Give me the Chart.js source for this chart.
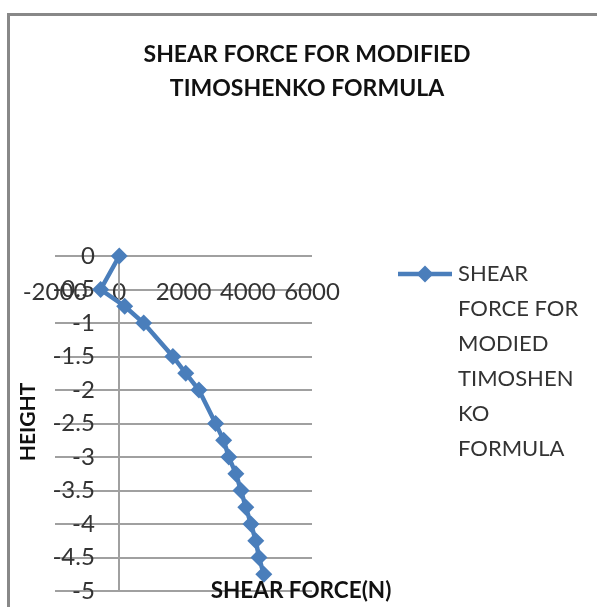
<!DOCTYPE html>
<html>
<head>
<meta charset="utf-8">
<script src="https://cdn.jsdelivr.net/npm/chart.js@4/dist/chart.umd.min.js"></script>
<style>
  body { margin: 0; background: #fff; overflow: hidden; }
</style>
</head>
<body>
<canvas id="myChart" width="597" height="607"></canvas>
<script>
// values
var height = [0, -0.5, -0.75, -1, -1.5, -1.75, -2, -2.5, -2.75, -3, -3.25, -3.5, -3.75, -4, -4.25, -4.5, -4.75]
var shearForce = [0, -580, 170, 760, 1670, 2070, 2480, 3000, 3250, 3410, 3630, 3790, 3940, 4100, 4250, 4350, 4500]
var titleLines = ['SHEAR FORCE FOR MODIFIED', 'TIMOSHENKO FORMULA']
var legendLines = ['SHEAR', 'FORCE FOR', 'MODIED', 'TIMOSHEN', 'KO', 'FORMULA']
var xTitle = 'SHEAR FORCE(N)'
var yTitle = 'HEIGHT'

var blue = '#4A7EBB'
var gridGrey = '#a0a0a0'

// scales sit inside the plot (crossing at 0), so they must not eat layout space
const noSpace = (s) => {
  if (s.isHorizontal()) s.height = 0
  else s.width = 0
  s.paddingTop = 0
  s.paddingBottom = 0
  s.paddingLeft = 0
  s.paddingRight = 0
}

// titles, frame + legend drawn by hand, chart.js legend can't wrap like excel
const extraText = {
  id: 'extraText',
  beforeDraw(chart) {
    const ctx = chart.ctx
    ctx.save()
    ctx.strokeStyle = '#888'
    ctx.lineWidth = 3
    ctx.beginPath()
    ctx.moveTo(8.5, 607)
    ctx.lineTo(8.5, 14.5)
    ctx.lineTo(597, 14.5)
    ctx.stroke()
    ctx.restore()
  },
  afterDraw(chart) {
    const ctx = chart.ctx
    ctx.save()
    ctx.fillStyle = '#111'
    ctx.textAlign = 'center'
    ctx.textBaseline = 'middle'
    ctx.font = 'bold 23px Lato'
    ctx.fillText(titleLines[0], 307, 55)
    ctx.fillText(titleLines[1], 307, 89)

    ctx.font = 'bold 22.5px Lato'
    ctx.fillText(xTitle, 301, 591)
    ctx.font = 'bold 21px Lato'
    ctx.translate(28, 422)
    ctx.rotate(-Math.PI / 2)
    ctx.fillText(yTitle, 0, 0)
    ctx.restore()

    // legend
    ctx.save()
    ctx.strokeStyle = blue
    ctx.lineWidth = 4.5
    ctx.beginPath()
    ctx.moveTo(398, 274)
    ctx.lineTo(452, 274)
    ctx.stroke()
    ctx.fillStyle = blue
    ctx.beginPath()
    ctx.moveTo(425, 265.5)
    ctx.lineTo(433.5, 274)
    ctx.lineTo(425, 282.5)
    ctx.lineTo(416.5, 274)
    ctx.closePath()
    ctx.fill()
    ctx.fillStyle = '#333'
    ctx.font = '22px Lato'
    ctx.textAlign = 'left'
    ctx.textBaseline = 'middle'
    legendLines.forEach((t, i) => ctx.fillText(t, 458, 274 + i * 35))
    ctx.restore()
  }
}

var canvas1 = document.getElementById('myChart')

var myChart = new Chart(canvas1, {
  type: 'line',
  data: {
    datasets: [{
      label: legendLines.join(' '),
      data: shearForce.map((v, i) => ({ x: v, y: height[i] })),
      borderColor: blue,
      backgroundColor: blue,
      borderWidth: 4.5,
      pointStyle: 'rectRot',
      pointRadius: 8.5,
      pointHoverRadius: 8.5,
      pointBorderWidth: 0,
      tension: 0,
      clip: false
    }]
  },
  options: {
    responsive: false,
    animation: false,
    layout: {
      padding: { left: 55, top: 256, right: 285, bottom: 16 }
    },
    plugins: {
      legend: { display: false },
      title: { display: false },
      tooltip: { enabled: false }
    },
    scales: {
      x: {
        type: 'linear',
        position: { y: 0 },
        min: -2000,
        max: 6000,
        afterFit: noSpace,
        ticks: {
          stepSize: 2000,
          padding: 22,
          maxRotation: 0,
          minRotation: 0,
          autoSkip: false,
          color: '#333',
          font: { family: 'Lato', size: 24 },
          callback: (v) => String(v)
        },
        grid: { display: false, drawTicks: false },
        border: { display: false }
      },
      // labels + gridlines; anchored a bit left of x=0 since padding is ignored for object positions
      y: {
        type: 'linear',
        position: { x: -760 },
        min: -5,
        max: 0,
        afterFit: noSpace,
        ticks: {
          stepSize: 0.5,
          color: '#333',
          font: { family: 'Lato', size: 24 },
          callback: (v) => String(v)
        },
        grid: { color: gridGrey, lineWidth: 2, drawTicks: false },
        border: { display: false }
      },
      // the vertical axis line at x = 0
      yLine: {
        type: 'linear',
        position: { x: 0 },
        min: -5,
        max: 0,
        afterFit: noSpace,
        ticks: { display: false },
        grid: { display: false, drawTicks: false },
        border: { display: true, color: gridGrey, width: 2 }
      }
    }
  },
  plugins: [extraText]
})
</script>
</body>
</html>
